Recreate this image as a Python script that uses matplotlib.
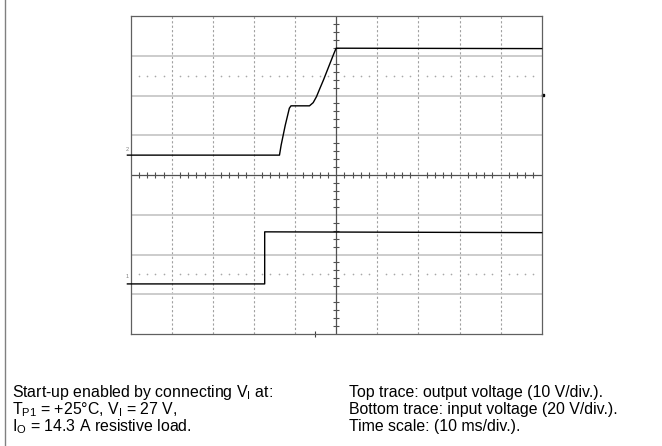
import numpy as np
import matplotlib
matplotlib.use('Agg')
from matplotlib import pyplot as plt
from matplotlib.lines import Line2D

plt.rcParams['font.family'] = ['Liberation Sans', 'DejaVu Sans']
plt.rcParams['mathtext.fontset'] = 'custom'
plt.rcParams['mathtext.rm'] = 'Liberation Sans'
plt.rcParams['mathtext.default'] = 'regular'

# top trace: output voltage (divisions)
top_t = [-0.08, 3.62, 3.66, 3.76, 3.86, 3.90, 4.35, 4.44, 4.52, 4.60, 4.69, 4.85, 4.93, 4.97, 5.00, 10.0]
top_v = [0.50, 0.50, 0.75, 1.25, 1.68, 1.74, 1.74, 1.82, 1.97, 2.17, 2.39, 2.81, 3.02, 3.12, 3.19, 3.18]

# bottom trace: input voltage (divisions)
bot_t = [-0.08, 3.26, 3.26, 10.0]
bot_v = [-2.74, -2.74, -1.43, -1.45]

left_notes = ['Start-up enabled by connecting V$_I$ at:',
              'T$_{P1}$ = +25°C, V$_I$ = 27 V,',
              'I$_O$ = 14.3 A resistive load.']
right_notes = ['Top trace: output voltage (10 V/div.).',
               'Bottom trace: input voltage (20 V/div.).',
               'Time scale: (10 ms/div.).']

W, H = 662, 446
fig = plt.figure(figsize=(W / 100, H / 100), dpi=100)
x0, x1, y0, y1 = 130.7, 541.7, 16, 334
ax = fig.add_axes([x0 / W, 1 - y1 / H, (x1 - x0) / W, (y1 - y0) / H])
ax.set_xlim(0, 10)
ax.set_ylim(-4, 4)
ax.set_xticks([])
ax.set_yticks([])
for s in ax.spines.values():
    s.set_color('#606060')
    s.set_linewidth(0.9)

# graticule
for gx in range(1, 10):
    if gx != 5:
        ax.axvline(gx, color='#a0a0a0', lw=0.8, ls=(0, (2, 2)), zorder=1)
for gy in range(-3, 4):
    if gy != 0:
        ax.axhline(gy, color='#c8c8c8', lw=1.3, zorder=1)
ax.axhline(0, color='#505050', lw=0.9, zorder=2)
ax.axvline(5, color='#505050', lw=0.9, zorder=2)
minor = np.arange(0.2, 10, 0.2)
minor = minor[np.abs(minor - np.round(minor)) > 0.01]
ax.plot(minor, np.zeros_like(minor), ls='none', marker='|', ms=5, mew=0.8, color='#505050', zorder=2)
vminor = np.arange(-3.8, 4, 0.2)
vminor = vminor[np.abs(vminor - np.round(vminor)) > 0.01]
ax.plot(np.full_like(vminor, 5), vminor, ls='none', marker='_', ms=5, mew=0.8, color='#505050', zorder=2)
for ry in (2.5, -2.5):
    ax.plot(minor, np.full_like(minor, ry), ls='none', marker='o', ms=1.2, mew=0,
            color='#a8a8a8', zorder=1)

ax.plot(top_t, top_v, color='black', lw=1.0, clip_on=False, zorder=3)
ax.plot(bot_t, bot_v, color='black', lw=1.0, clip_on=False, zorder=3)

# channel / trigger markers
ax.text(-0.08, 0.65, '2', fontsize=4, color='#808080', ha='center', va='center', clip_on=False)
ax.text(-0.08, -2.55, '1', fontsize=4, color='#808080', ha='center', va='center', clip_on=False)
ax.plot([10.04], [2.01], marker='s', ms=2.0, color='black', clip_on=False)
ax.plot([4.48], [-4.0], marker='|', ms=4, mew=0.8, color='#404040', clip_on=False)

fig.add_artist(Line2D([4.5 / W, 4.5 / W], [0, 1], color='#808080', lw=1.0))

for i, (l, r) in enumerate(zip(left_notes, right_notes)):
    yb = 1 - (397 + 17 * i) / H
    fig.text(12 / W, yb, l, fontsize=11.4, va='baseline', ha='left')
    fig.text(349 / W, yb, r, fontsize=11.4, va='baseline', ha='left')

fig.savefig('out.png', dpi=100)
